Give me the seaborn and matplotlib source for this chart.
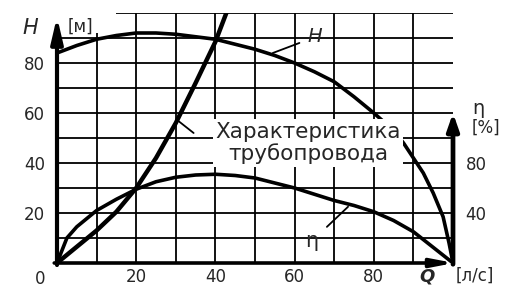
import matplotlib
matplotlib.use('Agg')
import matplotlib.pyplot as plt
import seaborn as sns

# pump head curve H(Q)
q_pump = [0, 5, 10, 15, 20, 25, 30, 35, 40, 45, 50, 55, 60, 65, 70, 75, 80, 85, 87.5, 90, 92.5, 95, 97.5, 99, 100]
h_pump = [84, 87, 89.5, 91, 92, 92, 91.5, 90.5, 89.5, 87.5, 85.5, 83, 80, 76.5, 72.5, 66.5, 60, 53, 48, 42, 36, 28, 18.5, 8, 0]

# pipeline characteristic
q_pipe = [0, 5, 10, 15, 20, 25, 30, 35, 40, 43]
h_pipe = [0, 6.5, 13, 20.5, 30, 42, 56, 72, 88.5, 101]

# efficiency, %
q_eff = [0, 2.5, 5, 10, 15, 20, 25, 30, 35, 40, 45, 50, 55, 60, 65, 70, 75, 80, 85, 90, 95, 100]
eff = [0, 20, 29, 42, 51, 59, 65, 68.6, 70.4, 71, 70, 68, 64, 60, 55, 50, 46, 41, 34, 25, 12.5, 0]

q_ticks = [20, 40, 60, 80]
h_ticks = [20, 40, 60, 80]
eff_ticks = [40, 80]
grid_vals = list(range(10, 100, 10))

sns.set_style('white')
plt.rcParams['font.family'] = ['DejaVu Sans']

fig = plt.figure(figsize=(5.25, 2.87), dpi=100)
ax = fig.add_axes([57 / 525, 24 / 287, 396 / 525, 250 / 287])
ax.set_xlim(0, 100)
ax.set_ylim(0, 100)

# grid
ax.vlines([10], 0, 92, color='black', lw=1.3, zorder=1)
ax.vlines(grid_vals[1:], 0, 100, color='black', lw=1.3, zorder=1)
ax.hlines(grid_vals, 0, 100, color='black', lw=1.3, zorder=1)
ax.hlines([100], 15, 100, color='black', lw=1.3, zorder=1)

sns.lineplot(x=q_pump, y=h_pump, ax=ax, color='black', lw=2.6, zorder=3)
sns.lineplot(x=q_pipe, y=h_pipe, ax=ax, color='black', lw=3.2, zorder=3)

ax2 = ax.twinx()
ax2.set_ylim(0, 200)
sns.lineplot(x=q_eff, y=eff, ax=ax2, color='black', lw=2.6, zorder=3)

for a in (ax, ax2):
    for s in a.spines.values():
        s.set_visible(False)
    a.set_xlabel('')
    a.set_ylabel('')

ax.set_xticks(q_ticks)
ax.set_yticks(h_ticks)
ax.tick_params(axis='both', length=0, labelsize=12)
ax.tick_params(axis='y', pad=8.5)
ax.tick_params(axis='x', pad=3.5)
ax2.set_yticks(eff_ticks)
ax2.tick_params(axis='y', length=0, labelsize=12, pad=9)

# axes with arrows
ax.annotate('', xy=(0, 98.5), xytext=(0, -0.8), annotation_clip=False,
            arrowprops=dict(arrowstyle='-|>,head_length=1.5,head_width=0.35', lw=3.0,
                            color='black', shrinkA=0, shrinkB=0, mutation_scale=10))
ax.annotate('', xy=(100.3, 0), xytext=(-0.7, 0), annotation_clip=False,
            arrowprops=dict(arrowstyle='-|>,head_length=1.3,head_width=0.25', lw=2.6,
                            color='black', shrinkA=0, shrinkB=0, mutation_scale=10))
ax2.annotate('', xy=(100, 120), xytext=(100, -1), annotation_clip=False,
             arrowprops=dict(arrowstyle='-|>,head_length=1.0,head_width=0.35', lw=3.4,
                             color='black', shrinkA=0, shrinkB=0, mutation_scale=10))

# axis labels
ax.text(-4.3, -2.6, '0', ha='center', va='top', fontsize=12, clip_on=False)
ax.text(-6.8, 94, 'H', ha='center', va='center', fontsize=15, style='italic', clip_on=False)
ax.text(5.8, 94.5, '[м]', ha='center', va='center', fontsize=12, clip_on=False)
ax.text(93.4, -5.2, 'Q', ha='center', va='center', fontsize=13, style='italic',
        weight='bold', clip_on=False)
ax.text(105.5, -5.2, '[л/с]', ha='center', va='center', fontsize=12, clip_on=False)
ax2.text(106.3, 124, 'η', ha='center', va='center', fontsize=14, clip_on=False)
ax2.text(108.3, 108, '[%]', ha='center', va='center', fontsize=12, clip_on=False)

# curve labels
ax.annotate('H', xy=(54.5, 84), xytext=(65.2, 90.4), ha='center', va='center',
            fontsize=14, style='italic', zorder=5,
            arrowprops=dict(arrowstyle='-', lw=1.3, color='black', shrinkA=4, shrinkB=0))
ax2.annotate('η', xy=(73.5, 45), xytext=(64.4, 17.6), ha='center', va='center',
             fontsize=15, zorder=5,
             arrowprops=dict(arrowstyle='-', lw=1.3, color='black', shrinkA=5, shrinkB=0))
ax.plot([30.5, 34.5], [57, 52], color='black', lw=1.3, zorder=4)
ax.text(63.4, 48, 'Характеристика\nтрубопровода', ha='center', va='center',
        fontsize=15.5, linespacing=1.1, zorder=5,
        bbox=dict(boxstyle='square,pad=0.12', facecolor='white', edgecolor='none'))

plt.savefig('out.png', dpi=100)
